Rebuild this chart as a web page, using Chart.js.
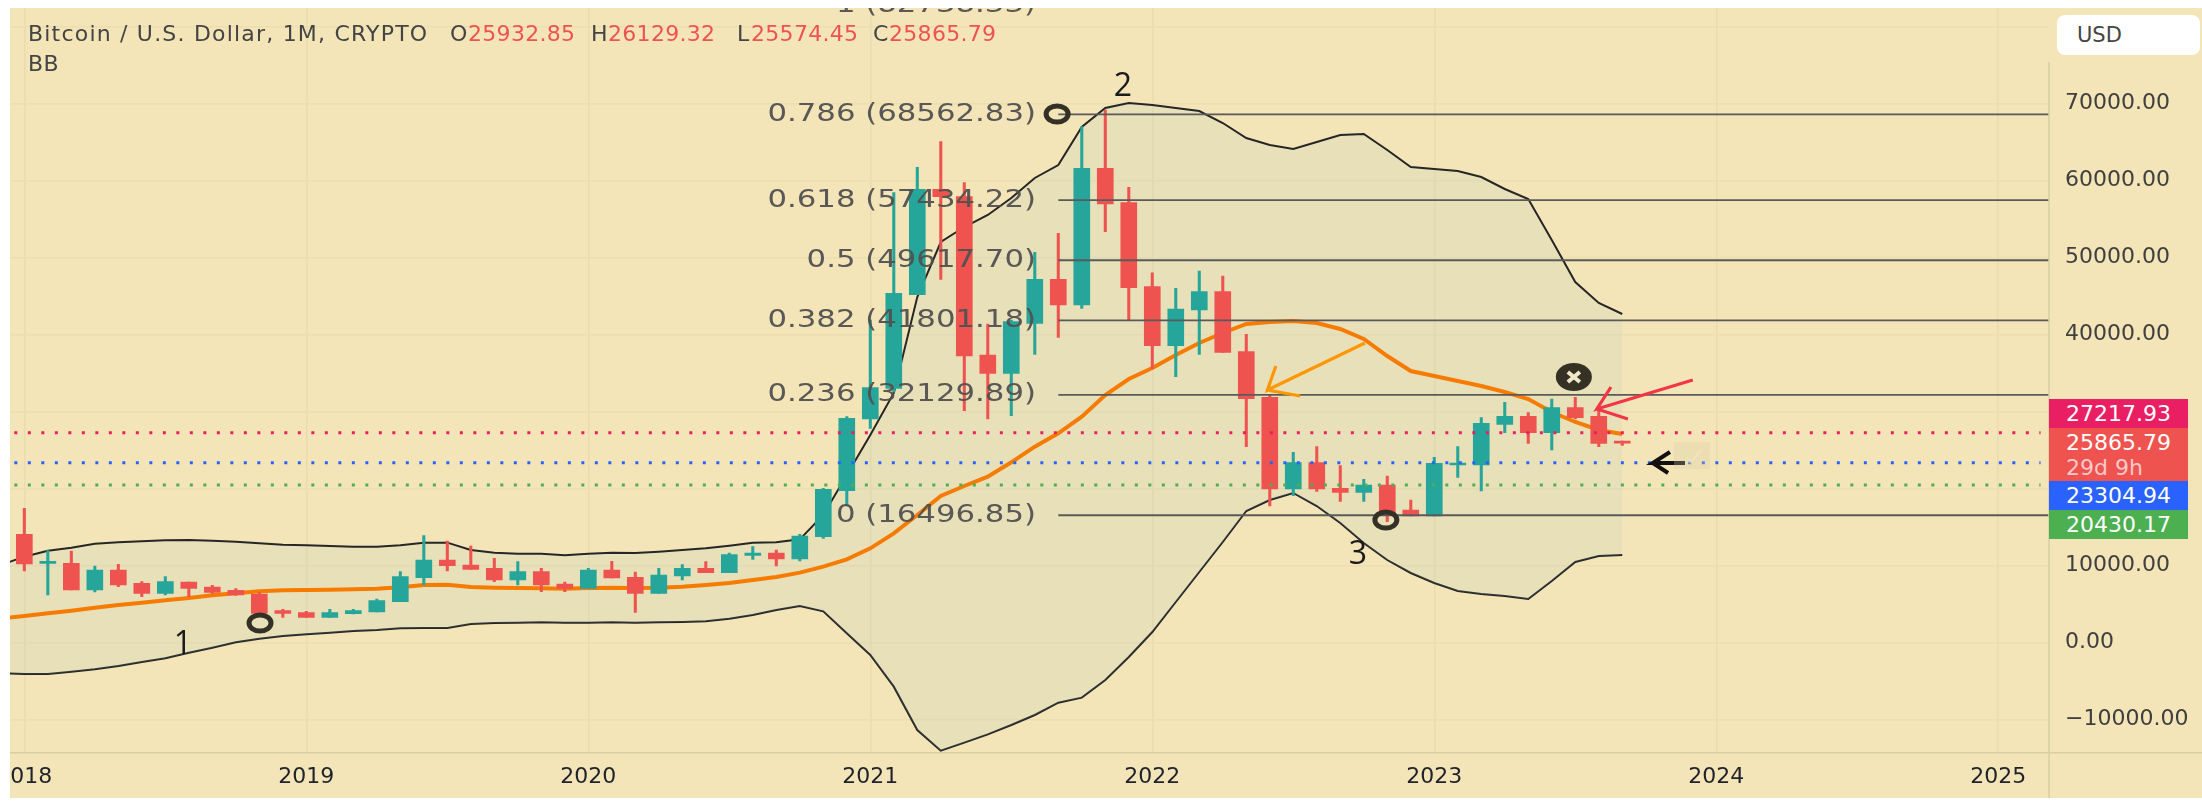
<!DOCTYPE html>
<html>
<head>
<meta charset="utf-8">
<title>Bitcoin / U.S. Dollar</title>
<script src="https://cdn.jsdelivr.net/npm/chart.js@4"></script>
<style>
  html, body { margin: 0; padding: 0; width: 2202px; height: 801px; background: #fff; overflow: hidden; }
  /* the source is a soft upscaled screenshot */
  #page { position: absolute; left: 0; top: 0; width: 2202px; height: 801px; filter: blur(0.5px); }
  #wrap { position: absolute; left: 10px; top: 8px; width: 2192px; height: 790px; background: #f3e5b7; }
  canvas { position: absolute; left: 0; top: 0; }
  .txt { position: absolute; font-family: "DejaVu Sans", sans-serif; font-size: 22px; line-height: 24px; color: #444; white-space: nowrap; letter-spacing: 0.3px; }
  .val { color: #ef5350; }
  .badge { position: absolute; left: 2049px; width: 139px; color: #fff; font-family: "DejaVu Sans", sans-serif; font-size: 22px; line-height: 29px; padding-left: 17px; box-sizing: border-box; }
  #usd { position: absolute; left: 2057px; top: 15px; width: 143px; height: 40px; background: #fff; border-radius: 8px; font-family: "DejaVu Sans", sans-serif; font-size: 21px; line-height: 41px; color: #444; text-indent: 20px; }
</style>
</head>
<body>
<div id="page">
<div id="wrap"><canvas id="chart" width="2192" height="790"></canvas></div>

<div class="txt" style="left:28px;top:22px;letter-spacing:1.2px">Bitcoin / U.S. Dollar, 1M, CRYPTO</div>
<div class="txt" style="left:450px;top:22px">O</div><div class="txt val" style="left:468px;top:22px">25932.85</div>
<div class="txt" style="left:591px;top:22px">H</div><div class="txt val" style="left:608px;top:22px">26129.32</div>
<div class="txt" style="left:737px;top:22px">L</div><div class="txt val" style="left:751px;top:22px">25574.45</div>
<div class="txt" style="left:873px;top:22px">C</div><div class="txt val" style="left:889px;top:22px">25865.79</div>
<div class="txt" style="left:28px;top:52px">BB</div>

<div id="usd">USD</div>
<div class="badge" style="top:399px;height:29px;background:#e91e63">27217.93</div>
<div class="badge" style="top:428px;height:53px;background:#ef5350;line-height:25px;padding-top:2px">25865.79<br><span style="color:#fbc9c7">29d 9h</span></div>
<div class="badge" style="top:481px;height:29px;background:#2962ff">23304.94</div>
<div class="badge" style="top:510px;height:29px;background:#4caf50">20430.17</div>
</div>

<script>
// monthly candles, index 0 = Jan 2018
const opens = [14022,10256,10256,6792,9390,7658,6360,7832,7182,6750,6273,4110,3850,3243,3719,3935,5277,8394,10688,10039,9607,8091,9174,7572,7009,9390,8437,6360,8611,9607,9044,11295,11598,10818,13719,19693,29000,32983,45148,58828,57875,37312,34931,41425,47138,43806,61554,57096,46186,38523,43156,45537,37744,31814,19910,23329,19996,19476,20429,17182,16403,23027,23027,28308,29346,27226,30472,29346,25932.85]
const closes = [10170,10400,6792,9390,7442,6360,7875,7009,6490,6143,3762,3762,3243,3850,4110,5407,8524,10688,9952,9477,8091,9174,7442,7009,9390,8351,6360,8741,9607,9044,11381,11598,10818,13806,19866,29087,33070,45320,58828,57875,37182,34931,41640,47138,43806,61554,56922,46056,38523,43285,45537,37658,31641,19910,23329,19910,19476,20429,16749,16403,23243,23200,28438,29346,27226,30472,29174,25840,25865.79]
const highs = [17399,11900,11857,9910,10126,7875,8524,7832,7399,6966,6446,4283,4023,4283,4283,5624,9174,13849,13156,12507,10905,10472,9607,7832,9607,10515,9130,9607,10082,10472,11598,12420,11987,14022,20000,29300,41858,58394,61684,65018,59693,41338,41858,50645,53113,66966,69130,59087,47998,45970,48222,47572,39996,32031,24671,25407,22940,21165,21598,18481,24022,25407,29174,31165,29823,31598,31814,30170,26129.32]
const lows = [9260,6143,6792,6530,7225,5927,6143,5927,6360,6100,3500,3243,3243,3243,3676,3935,5277,7442,9260,9477,7875,7442,6576,6576,7009,8351,3892,6360,8091,9044,9044,10775,9910,10559,13503,17702,27788,32500,45148,47138,30083,29000,29433,37398,39607,43373,53330,41770,35580,34498,37398,37658,25407,17702,19044,19606,18308,18308,15667,16403,16403,21425,19650,27226,25840,24974,28999,25407,25574.45]

// Bollinger bands, first value sits one month before Jan 2018
const bbUpper = [10040,11122,11900,12290,12810,12983,13113,13243,13286,13200,13070,12853,12680,12594,12507,12420,12420,12594,12940,12940,11987,11641,11511,11511,11295,11511,11641,11598,11771,11987,12204,12550,12940,12983,13373,16533,21728,26922,32376,44844,51987,53935,55494,57702,60300,61987,66922,69390,70039,69780,69390,69000,67442,65494,64585,64065,64974,65883,66013,63935,61727,61467,61208,60429,58870,57571,52247,46792,44065,42636]
const bbBasis = [3113,3416,3762,4109,4498,4845,5148,5451,5754,6100,6360,6620,6749,6793,6836,6879,6966,7139,7442,7485,7182,7096,7052,7009,6966,7052,7096,7052,7096,7226,7442,7701,8091,8480,9044,9823,10775,12204,14152,16533,19000,20300,21511,23373,25407,27139,29303,32117,34195,35623,37312,38870,40169,41338,41597,41727,41467,40688,39390,37182,35234,34585,33935,33286,32506,31597,29909,28610,27571,27052]
const bbLower = [-4030,-4116,-4116,-3813,-3511,-3077,-2558,-2082,-1346,-697,-4,473,818,1035,1252,1468,1598,1814,1858,1858,2377,2507,2550,2594,2550,2550,2594,2550,2594,2637,2724,3070,3546,4196,4715,4022,1165,-1649,-5761,-11389,-14073,-13035,-11952,-10740,-9442,-7839,-7191,-4900,-1910,1338,5234,9130,13026,17052,18481,19390,17701,15494,12896,10688,9000,7701,6662,6273,6013,5623,7961,10429,11208,11338]

// fibonacci retracement
const fibLevels = ['1','0.786','0.618','0.5','0.382','0.236','0']
const fibPrices = [82738.33,68562.83,57434.22,49617.70,41801.18,32129.89,16496.85]
const fibStart = 44
const fibLabelEnd = 43.05

// dotted price lines
const priceLines = [27217.93,23304.94,20430.17]
const priceLineColors = ['#e91e63','#2962ff','#4caf50']

// hand drawn notes, all in [month, price]
const orangeArrow = [[57.05,38870],[52.9,32766],[53.26,35883],[52.9,32766],[54.3,31987]]
const redArrow = [[71,34065],[66.92,30300],[67.52,33156],[66.92,30300],[68.24,29000]]
const blackArrow = [[70.67,23286],[69.3,23286],[70.03,24714],[69.3,23286],[69.95,21987]]
const rings = [[10.03,2506],[43.95,68610],[57.94,15883]]
const crossRing = [65.94,34455]
const waveLabels = [['1',6.75,-351],['2',46.75,72117],['3',56.75,11338]]

// ticks
const yearMonths = [0,12,24,36,48,60,72,84]
const yearLabels = ['2018','2019','2020','2021','2022','2023','2024','2025']
const priceTicks = [-10000,0,10000,20000,30000,40000,50000,60000,70000,80000]

const RED = '#ef5350'
const GREEN = '#26a69a'
const candleColor = ctx => closes[ctx.dataIndex] >= opens[ctx.dataIndex] ? GREEN : RED

const bbPoints = arr => arr.map((v, i) => ({ x: i - 1, y: v }))
const arrowLine = (pts, color, width) => ({
  type: 'line',
  data: pts.map(p => ({ x: p[0], y: p[1] })),
  borderColor: color,
  borderWidth: width,
  pointRadius: 0,
  tension: 0,
  order: 0
})

const datasets = [
  {
    type: 'line',
    data: bbPoints(bbUpper),
    borderColor: '#262626',
    borderWidth: 2,
    pointRadius: 0,
    tension: 0,
    fill: '+1',
    backgroundColor: 'rgba(163,196,203,0.13)',
    order: 6
  },
  {
    type: 'line',
    data: bbPoints(bbLower),
    borderColor: '#262626',
    borderWidth: 2,
    pointRadius: 0,
    tension: 0,
    order: 6
  },
  {
    type: 'line',
    data: bbPoints(bbBasis),
    borderColor: '#f57c00',
    borderWidth: 4,
    pointRadius: 0,
    tension: 0,
    order: 5
  },
  {
    type: 'bar',
    data: lows.map((l, i) => ({ x: i, y: [l, highs[i]] })),
    backgroundColor: candleColor,
    barThickness: 2.4,
    grouped: false,
    order: 4
  },
  {
    type: 'bar',
    data: opens.map((o, i) => ({ x: i, y: [o, closes[i]] })),
    backgroundColor: candleColor,
    barThickness: 16,
    minBarLength: 2,
    grouped: false,
    order: 3
  }
]

fibPrices.slice(1).forEach(p => {
  datasets.push({
    type: 'line',
    data: [{ x: fibStart, y: p }, { x: 90, y: p }],
    borderColor: '#5a5a5a',
    borderWidth: 1.8,
    pointRadius: 0,
    order: 2
  })
})

priceLines.forEach((p, i) => {
  datasets.push({
    type: 'line',
    data: [{ x: -1, y: p }, { x: 85.8, y: p }],
    borderColor: priceLineColors[i],
    borderWidth: 3,
    borderDash: [3, 10.5],
    pointRadius: 0,
    order: 1
  })
})

datasets.push(arrowLine(orangeArrow, '#ff9800', 3.2))
datasets.push(arrowLine(redArrow, '#f23645', 3.2))
datasets.push(arrowLine(blackArrow, '#111111', 4))

const notesPlugin = {
  id: 'notes',
  afterDatasetsDraw(chart) {
    const { ctx, scales: { x, y }, chartArea, width, height } = chart

    // axis lines, the price axis starts below the USD button
    ctx.save()
    ctx.strokeStyle = '#d9cda8'
    ctx.lineWidth = 1.5
    ctx.beginPath()
    ctx.moveTo(chartArea.left, chartArea.bottom)
    ctx.lineTo(width, chartArea.bottom)
    ctx.moveTo(chartArea.right, 54)
    ctx.lineTo(chartArea.right, height)
    ctx.stroke()
    ctx.restore()

    // faint check box next to the black arrow
    const bx = x.getPixelForValue(70.2)
    const by = y.getPixelForValue(26000)
    ctx.save()
    ctx.fillStyle = 'rgba(215,205,165,0.28)'
    ctx.fillRect(bx, by, 36, 27)
    ctx.strokeStyle = 'rgba(243,229,183,0.7)'
    ctx.lineWidth = 2.5
    ctx.beginPath()
    ctx.moveTo(bx + 12, by + 15)
    ctx.lineTo(bx + 17, by + 20)
    ctx.lineTo(bx + 27, by + 8)
    ctx.stroke()
    ctx.restore()

    // fib labels, stretched wide like the source
    ctx.save()
    ctx.fillStyle = 'rgba(80,80,80,0.95)'
    ctx.font = '25px "DejaVu Sans"'
    ctx.textAlign = 'right'
    ctx.textBaseline = 'middle'
    fibLevels.forEach((lv, i) => {
      ctx.save()
      ctx.translate(x.getPixelForValue(fibLabelEnd), y.getPixelForValue(fibPrices[i]))
      ctx.scale(1.23, 1)
      ctx.fillText(lv + ' (' + fibPrices[i].toFixed(2) + ')', 0, 0)
      ctx.restore()
    })
    ctx.restore()

    // rings
    ctx.save()
    ctx.strokeStyle = '#333126'
    ctx.lineWidth = 5
    rings.forEach(r => {
      ctx.beginPath()
      ctx.ellipse(x.getPixelForValue(r[0]), y.getPixelForValue(r[1]), 11, 8, 0, 0, Math.PI * 2)
      ctx.stroke()
    })
    const cx = x.getPixelForValue(crossRing[0])
    const cy = y.getPixelForValue(crossRing[1])
    ctx.fillStyle = '#353225'
    ctx.beginPath()
    ctx.ellipse(cx, cy, 18, 14, 0, 0, Math.PI * 2)
    ctx.fill()
    ctx.strokeStyle = '#f0e6c8'
    ctx.lineWidth = 4
    ctx.beginPath()
    ctx.moveTo(cx - 6, cy - 5)
    ctx.lineTo(cx + 6, cy + 5)
    ctx.moveTo(cx + 6, cy - 5)
    ctx.lineTo(cx - 6, cy + 5)
    ctx.stroke()
    ctx.restore()

    // wave numbers
    ctx.save()
    ctx.fillStyle = '#1a1a1a'
    ctx.font = '32px "Open Sans"'
    ctx.textAlign = 'center'
    ctx.textBaseline = 'middle'
    waveLabels.forEach(w => ctx.fillText(w[0], x.getPixelForValue(w[1]), y.getPixelForValue(w[2])))
    ctx.restore()
  }
}

new Chart(document.getElementById('chart'), {
  data: { datasets },
  plugins: [notesPlugin],
  options: {
    responsive: false,
    animation: false,
    events: [],
    layout: { padding: 0 },
    plugins: { legend: { display: false }, tooltip: { enabled: false } },
    scales: {
      x: {
        type: 'linear',
        min: -0.61,
        max: 86.16,
        offset: false,
        // bar defaults shift the grid by half a step otherwise
        grid: { offset: false, color: '#e9dcae', lineWidth: 1.5, drawTicks: false, tickLength: 0 },
        border: { display: false },
        ticks: {
          autoSkip: false,
          maxRotation: 0,
          padding: 11,
          color: '#1f222b',
          font: { family: 'DejaVu Sans', size: 22 },
          callback: v => yearLabels[yearMonths.indexOf(v)]
        },
        afterBuildTicks(scale) {
          scale.ticks = yearMonths.map(value => ({ value }))
        },
        afterFit(scale) {
          // first year label is cut off by the frame like the source
          scale.paddingLeft = 0
          scale.paddingRight = 0
          scale.height = 45.3
        }
      },
      y: {
        type: 'linear',
        position: 'right',
        min: -14338,
        max: 82377,
        grid: { color: '#ebdeb1', lineWidth: 1.5, drawTicks: false, tickLength: 0 },
        border: { display: false },
        ticks: {
          autoSkip: false,
          padding: 16,
          crossAlign: 'near',
          color: '#3f3f3f',
          font: { family: 'DejaVu Sans', size: 22 },
          callback: v => v.toFixed(2).replace('-', '\u2212')
        },
        afterBuildTicks(scale) {
          scale.ticks = priceTicks.map(value => ({ value }))
        },
        afterFit(scale) {
          scale.paddingTop = 0
          scale.paddingBottom = 0
          scale.width = 153
        }
      }
    }
  }
})
</script>
</body>
</html>
